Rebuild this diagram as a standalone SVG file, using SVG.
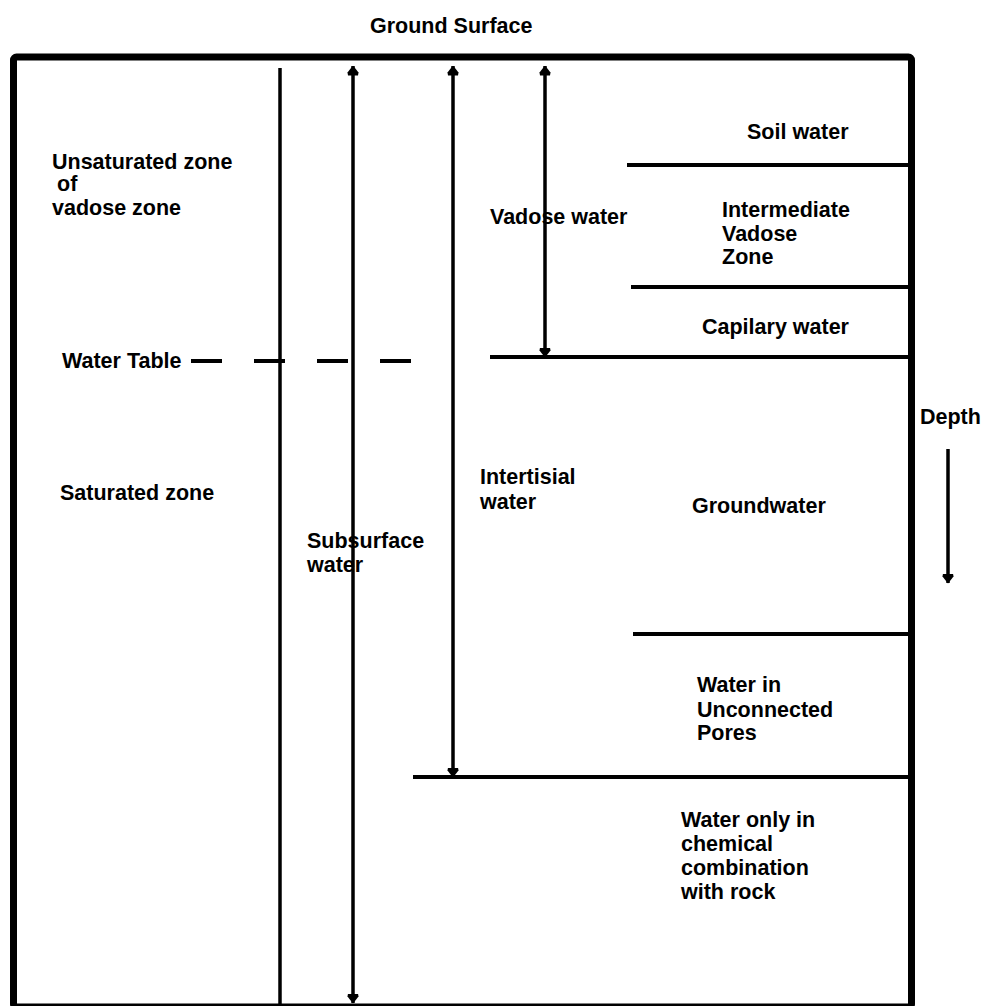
<svg xmlns="http://www.w3.org/2000/svg" width="994" height="1006" viewBox="0 0 994 1006">
<style>
text{font-family:"Liberation Sans",Arial,sans-serif;font-weight:bold;font-size:21.5px;fill:#000}
.ln{stroke:#000;stroke-width:4;fill:none}
.vl{stroke:#000;stroke-width:3.5;fill:none}
</style>
<defs>
<marker id="ah" viewBox="0 0 10 12" refX="9.5" refY="6" markerWidth="10" markerHeight="12" markerUnits="userSpaceOnUse" orient="auto-start-reverse">
<path d="M0,1 L3,0.5 L10,6 L3,11.5 L0,11 z" fill="#000"/>
</marker>
</defs>
<rect width="994" height="1006" fill="#fff"/>
<g id="frame"><rect x="13.5" y="57" width="898" height="950" rx="3" fill="none" stroke="#000" stroke-width="7"/></g>
<g id="connectors">
<line class="vl" x1="280" y1="68" x2="280" y2="1006"/>
<line class="vl" x1="353" y1="66" x2="353" y2="1003" marker-start="url(#ah)" marker-end="url(#ah)"/>
<line class="vl" x1="453" y1="66" x2="453" y2="777" marker-start="url(#ah)" marker-end="url(#ah)"/>
<line class="vl" x1="545" y1="66" x2="545" y2="357" marker-start="url(#ah)" marker-end="url(#ah)"/>
<line class="vl" x1="948" y1="449" x2="948" y2="583" marker-end="url(#ah)"/>
<line class="ln" x1="627" y1="165" x2="910" y2="165"/>
<line class="ln" x1="631" y1="287" x2="910" y2="287"/>
<line class="ln" x1="490" y1="357" x2="910" y2="357"/>
<line class="ln" x1="633" y1="634" x2="910" y2="634"/>
<line class="ln" x1="413" y1="777" x2="910" y2="777"/>
<line class="ln" x1="191" y1="361" x2="412" y2="361" stroke-dasharray="31 32"/>
</g>
<g id="labels">
<text x="370" y="33">Ground Surface</text>
<text x="747" y="139">Soil water</text>
<text x="52" y="169">Unsaturated zone</text>
<text x="57" y="191">of</text>
<text x="52" y="215">vadose zone</text>
<text x="490" y="224">Vadose water</text>
<text x="722" y="217">Intermediate</text>
<text x="722" y="241">Vadose</text>
<text x="722" y="264">Zone</text>
<text x="702" y="334">Capilary water</text>
<text x="62" y="368">Water Table</text>
<text x="60" y="500">Saturated zone</text>
<text x="480" y="484">Intertisial</text>
<text x="480" y="509">water</text>
<text x="692" y="513">Groundwater</text>
<text x="307" y="548">Subsurface</text>
<text x="307" y="572">water</text>
<text x="920" y="424">Depth</text>
<text x="697" y="692">Water in</text>
<text x="697" y="717">Unconnected</text>
<text x="697" y="740">Pores</text>
<text x="681" y="827">Water only in</text>
<text x="681" y="851">chemical</text>
<text x="681" y="875">combination</text>
<text x="681" y="899">with rock</text>
</g>
</svg>
